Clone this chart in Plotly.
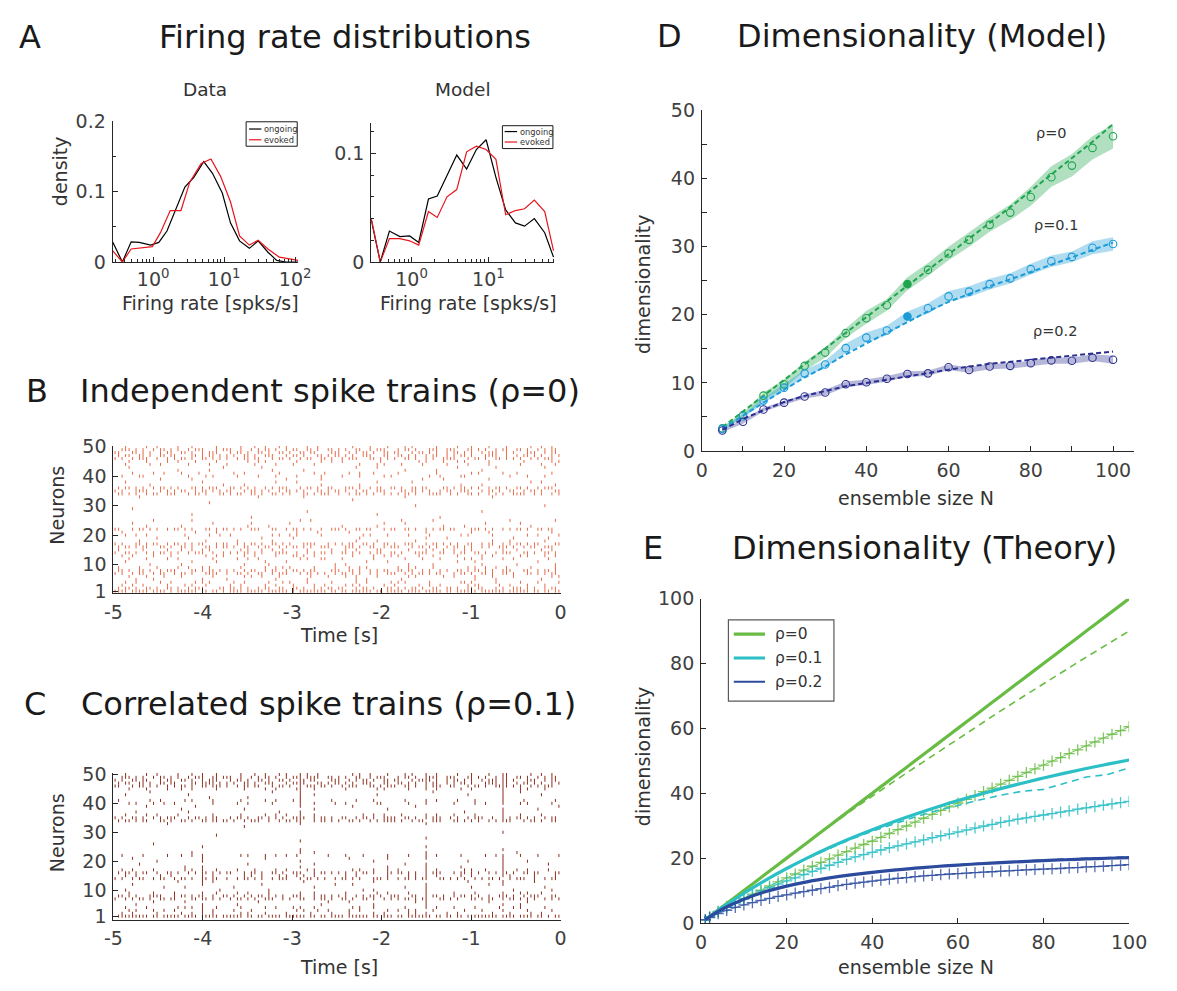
import plotly.graph_objects as go

W, H = 1177, 991
FONT = "DejaVu Sans, Verdana, sans-serif"
TICKC = '#404040'
AXC = '#262626'
TXT = '#1a1a1a'

# ---------------- Panel A : firing-rate distributions ----------------
a_data_ongoing_logx = [-0.571, -0.433, -0.309, -0.195, -0.034, 0.080, 0.195, 0.319, 0.447, 0.571, 0.713,
                       0.836, 0.974, 1.089, 1.217, 1.355, 1.479, 1.617, 1.740, 1.868, 2.043]
a_data_ongoing = [0.0287, 0.0, 0.0287, 0.0278, 0.0241, 0.0278, 0.044, 0.074, 0.1065, 0.120, 0.1426,
                  0.126, 0.098, 0.0556, 0.030, 0.0194, 0.030, 0.0139, 0.0023, 0.0, 0.0]
a_data_evoked_logx = [-0.571, -0.433, -0.309, -0.149, -0.011, 0.103, 0.241, 0.392, 0.516, 0.677, 0.814,
                      0.952, 1.089, 1.217, 1.355, 1.479, 1.617, 1.777, 1.915, 2.043]
a_data_evoked = [0.0162, 0.0, 0.0185, 0.0208, 0.0218, 0.0417, 0.0731, 0.0731, 0.1134, 0.1398, 0.1463,
                 0.1213, 0.0856, 0.037, 0.024, 0.031, 0.0185, 0.0069, 0.0046, 0.0023]

a_model_logx = [-0.525, -0.407, -0.288, -0.152, -0.025, 0.093, 0.220, 0.334, 0.461, 0.588, 0.716,
                0.843, 0.970, 1.097, 1.224, 1.351, 1.470, 1.597, 1.732, 1.846]
a_model_ongoing = [0.039, 0.0, 0.0285, 0.0234, 0.024, 0.018, 0.058, 0.0607, 0.0796, 0.0985, 0.0856,
                   0.1036, 0.1126, 0.078, 0.048, 0.036, 0.033, 0.040, 0.027, 0.0045]
a_model_evoked = [0.0405, 0.0, 0.0216, 0.0216, 0.0195, 0.0156, 0.0465, 0.041, 0.060, 0.0667, 0.1015,
                  0.1066, 0.1036, 0.0946, 0.0435, 0.0474, 0.049, 0.057, 0.0465, 0.0105]

log_major_ticks = [1, 10, 100]
log_major_text = ['10<sup>0</sup>', '10<sup>1</sup>', '10<sup>2</sup>']
log_minor_ticks = [0.3, 0.4, 0.5, 0.6, 0.7, 0.8, 0.9, 2, 3, 4, 5, 6, 7, 8, 9,
                   20, 30, 40, 50, 60, 70, 80, 90]

# ---------------- Panels B, C : spike rasters (hex-coded 128 time bins per neuron, neuron 1 first) ----------------
raster_t0, raster_t1 = -5.0, 0.0
raster_b_rows = [
    "f7de bf6d 7bef d7fb 6fdb ef7d bd7f 7edb",
    "5a69 a5c3 6a59 9a56 c5a3 5699 a6c5 3a96",
    "2481 0a20 4812 1048 2a04 8124 0582 4210",
    "1204 8150 2408 a102 0481 5020 1a04 0841",
    "0210 0040 8002 0100 0480 2000 0104 0020",
    "0842 1008 0521 0084 2410 0a02 4108 2005",
    "a596 5a3c 9a65 c5a9 6a53 95ac 5a69 a356",
    "69a5 c35a a596 5ac3 9a56 6ca5 35a9 c65a",
    "4108 2450 0812 a041 1280 4a10 0524 8102",
    "0020 1000 0408 0001 2000 0810 0040 1002",
    "1000 0204 0010 4000 0082 0000 2100 0040",
    "0841 2008 1240 0518 4020 1084 0a41 2008",
    "2410 8025 0482 1a40 0825 4110 2048 0a12",
    "9a56 a5c9 56a3 c95a 6a59 a3c6 59a5 c69a",
    "4081 1250 0a24 8102 2418 0852 4a01 1024",
    "5ac6 9a35 a659 5a9c 3a65 c5a9 6a53 a59c",
    "a359 6ac5 95a6 a3c5 59a6 9c5a a659 5ac3",
    "0100 0020 1004 0000 0410 0200 0008 4010",
    "0008 0400 0020 1000 0200 0041 0000 2008",
    "1240 0812 4005 2810 0142 0820 1408 0241",
    "2000 0104 0000 0820 1000 0040 0210 0004",
    "c5a9 6a35 a9c6 5a93 a6c5 9a56 c3a9 5a6c",
    "0040 1000 0208 0000 4010 0002 0800 0100",
    "0400 0008 0100 2000 0004 1000 0020 0800",
    "0010 0200 0000 0480 0000 2010 0000 4002",
    "0000 0000 0100 0000 0000 0004 0000 0000",
    "0000 0200 0000 0000 0010 0000 0000 0000",
    "0000 0000 0000 0100 0000 0000 0040 0000",
    "0400 0000 0000 0000 0000 0000 0000 0000",
    "0000 0000 0000 0000 0000 0200 0000 0010",
    "0000 0010 0000 0000 0000 0000 0000 0000",
    "0000 0000 0000 0000 0800 0000 0000 0000",
    "0100 0000 0040 0200 0000 1000 0008 0000",
    "6a59 c5a3 59a6 a35c 96a5 5a3c a695 3ca5",
    "a3c5 596a c5a9 6a35 a59c 36a5 9c5a 65a3",
    "5a96 a35c 6a95 c5a6 3a59 a6c3 5a96 9a5c",
    "0020 0001 0400 0010 0200 0000 1040 0002",
    "1000 0040 0002 0800 0010 0400 0000 0120",
    "0004 0200 0000 4010 0000 0082 0010 0000",
    "2180 0428 1042 0810 4205 0024 1800 4210",
    "0412 1080 2401 0048 1220 4008 0281 1004",
    "0000 2010 0004 0200 0000 1008 0040 0000",
    "0800 0001 0020 0000 0410 0000 2004 0010",
    "1024 0410 8082 1040 0214 2081 0410 0822",
    "0841 2104 0250 0812 4008 0142 2810 0405",
    "a5c9 5a6a 96c5 a59a 5c6a 9a53 c5a6 a95c",
    "59a6 c35a a69c 5a35 a9c6 6a59 5a3c 96a5",
    "c6a5 9a5c 5a69 a6c3 95a6 c5a9 6a5c a396",
    "3a96 a5c5 c95a 59a6 a65c 5a39 c6a5 9a56",
    "1048 2204 0891 4120 0842 1408 2210 8124",
]
raster_c_rows = [
    "7fdb ef7d fb6f 7edb dfb7 6fed b7fd ef6b",
    "2408 1248 0a10 4082 1024 0a41 2008 4120",
    "0a12 4048 2100 0a24 1202 4a10 0841 0204",
    "1040 2a44 0812 1440 0a20 1048 4102 2810",
    "0200 0040 1000 0010 0020 0040 0001 0800",
    "0010 0800 0040 0004 1000 0240 0010 0200",
    "95a6 c36a 5a9c a65a 69a5 5ac6 a359 6a95",
    "6a3c 5ac9 a56a 9c5a a569 c65a 5a93 a5c6",
    "0810 4044 1208 0440 2012 0840 4101 0a20",
    "1000 0002 0008 0000 0120 0040 0000 2004",
    "0002 0800 2000 0040 0000 1040 0200 0010",
    "0400 0040 0020 0001 0800 0040 0011 0000",
    "0000 2048 0000 0200 0020 0000 0401 0080",
    "a596 5a6c 96a5 c5a9 6a3a 5ac6 a95a 5c96",
    "1204 8048 0521 4a40 2402 0a48 1201 4082",
    "5ac9 a56a c5a6 9c5a a5a3 6a5c 5a95 a6c3",
    "2410 0a44 1082 4140 0a22 4048 0a21 1208",
    "0000 0840 0000 0400 0002 0040 1001 0000",
    "0100 0000 0200 0040 0000 1040 0001 0008",
    "0008 0040 0000 0400 0020 0000 0401 0200",
    "0400 0040 0010 0000 1002 0040 0001 0000",
    "2081 1240 0a12 4804 2102 0848 1025 0841",
    "0000 0200 0000 0440 0000 0040 0000 1000",
    "0000 0000 0000 0400 0000 0000 0001 0000",
    "0000 0040 0000 0000 0000 0040 0000 0000",
    "0010 0000 0000 0000 0000 0000 0000 0000",
    "0000 0000 0000 0400 0000 0000 0000 0000",
    "0000 0000 0000 0000 0000 0040 0000 0000",
    "0000 0004 0000 0000 0000 0000 0000 0000",
    "0000 0000 0000 0000 0000 0000 0001 0000",
    "0000 0000 0000 0000 0000 0000 0000 0000",
    "0000 0000 0400 0000 0000 0000 0000 0000",
    "0001 0000 0000 0400 0000 0040 0000 0000",
    "5ac6 9a6d a5c9 6c5a 9a57 a59c 6a95 c5a6",
    "a695 c5ac 5a6a 9e5a 65a7 9a5c a5c9 5a96",
    "1048 2008 0812 4440 0124 2048 4101 0820",
    "0200 0400 0001 0400 0000 0000 0801 0000",
    "0000 1000 0400 0040 0002 0000 0001 0040",
    "0040 0100 0000 0400 0800 0200 0000 0001",
    "0a12 4008 1204 0441 2018 0840 4121 0a04",
    "4024 0a08 0812 1402 0420 1048 2101 0402",
    "0000 0010 0200 0400 0000 0000 0001 0000",
    "1000 0400 0000 0440 0010 0000 0401 0020",
    "0020 0000 0004 0400 0000 0010 0001 0800",
    "0841 1204 0412 0c40 2014 0848 1201 0a10",
    "c5a9 5a6e 96c5 a5da 5c6b 9a5c c5a7 a95c",
    "59a6 c37a a69c 5e35 a9c6 6a59 5a3d 96a5",
    "a6c5 9a5c 5a69 a6c3 95a6 c5e9 6a5d a396",
    "3a96 a5cd c95a 5de6 a65c 5a79 c6a5 9a56",
    "1048 2244 0891 4520 0a42 1448 2211 8124",
]
raster_yticks = [1, 10, 20, 30, 40, 50]
raster_xticks = [-5, -4, -3, -2, -1, 0]
raster_xtext = ['-5', '-4', '-3', '-2', '-1', '0']

# ---------------- Panel D : dimensionality (model) ----------------
d_n = [5, 10, 15, 20, 25, 30, 35, 40, 45, 50, 55, 60, 65, 70, 75, 80, 85, 90, 95, 100]
d_r0_mean = [3.35, 5.26, 8.13, 9.8, 12.5, 14.45, 17.3, 19.5, 21.4, 24.5, 26.6, 29.0, 31.0, 33.2, 35.0, 37.3, 40.2, 41.9, 44.5, 46.2]
d_r0_lo = [3.1, 4.9, 7.5, 9.2, 11.8, 13.7, 16.6, 18.7, 20.6, 23.6, 25.7, 28.0, 30.0, 32.2, 33.9, 36.0, 38.8, 40.3, 42.8, 44.4]
d_r0_hi = [3.6, 5.6, 8.6, 10.5, 13.1, 15.2, 18.0, 20.6, 22.3, 25.5, 27.6, 30.0, 32.1, 34.3, 36.2, 38.8, 41.8, 43.6, 46.2, 48.0]
d_r0_theory = [3.5, 5.8, 8.2, 10.5, 12.8, 15.1, 17.4, 19.6, 21.9, 24.2, 26.5, 28.8, 31.1, 33.5, 35.8, 38.2, 40.6, 43.0, 45.4, 48.0]
d_r1_mean = [3.25, 5.1, 7.4, 9.3, 11.4, 12.7, 15.1, 16.65, 17.7, 19.75, 20.95, 22.7, 23.4, 24.5, 25.35, 26.7, 27.85, 28.5, 29.85, 30.4]
d_r1_lo = [3.0, 4.8, 7.0, 8.8, 10.9, 12.2, 14.4, 15.9, 17.0, 19.0, 20.2, 21.9, 22.6, 23.7, 24.6, 25.9, 27.0, 27.7, 28.9, 29.4]
d_r1_hi = [3.5, 5.4, 7.8, 9.8, 11.9, 13.3, 15.8, 17.4, 18.4, 20.5, 21.7, 23.5, 24.2, 25.3, 26.1, 27.5, 28.7, 29.3, 30.8, 31.4]
d_r1_theory = [3.3, 5.2, 7.2, 9.0, 10.8, 12.4, 14.2, 15.8, 17.4, 19.0, 20.5, 21.9, 23.1, 24.2, 25.2, 26.3, 27.4, 28.5, 29.5, 30.6]
d_r2_mean = [3.0, 4.3, 6.1, 7.1, 8.0, 8.6, 9.8, 10.1, 10.6, 11.3, 11.4, 12.3, 11.9, 12.4, 12.5, 12.9, 13.3, 13.25, 13.7, 13.4]
d_r2_lo = [2.8, 4.0, 5.8, 6.8, 7.7, 8.2, 9.4, 9.7, 10.2, 10.9, 11.0, 11.9, 11.5, 12.0, 12.1, 12.5, 12.8, 12.8, 13.2, 12.8]
d_r2_hi = [3.2, 4.6, 6.4, 7.4, 8.3, 9.0, 10.2, 10.5, 11.0, 11.7, 11.8, 12.7, 12.3, 12.8, 12.9, 13.3, 13.8, 13.7, 14.2, 14.0]
d_r2_theory = [3.1, 4.7, 6.0, 7.2, 8.1, 8.8, 9.5, 10.0, 10.5, 11.0, 11.5, 12.0, 12.4, 12.8, 13.1, 13.5, 13.8, 14.1, 14.4, 14.6]
d_highlight_n = 50
d_labels = ['ρ=0', 'ρ=0.1', 'ρ=0.2']

# ---------------- Panel E : dimensionality (theory) ----------------
e_n = [1, 5, 10, 15, 20, 25, 30, 35, 40, 45, 50, 55, 60, 65, 70, 75, 80, 85, 90, 95, 100]
e_r0_solid = [1, 5, 10, 15, 20, 25, 30, 35, 40, 45, 50, 55, 60, 65, 70, 75, 80, 85, 90, 95, 100]
e_r1_solid = [1, 4.81, 9.17, 13.16, 16.81, 20.16, 23.26, 26.12, 28.78, 31.25, 33.56, 35.71, 37.74, 39.63,
              41.42, 43.10, 44.69, 46.20, 47.62, 48.97, 50.25]
e_r2_solid = [1, 4.31, 7.35, 9.62, 11.36, 12.76, 13.89, 14.83, 15.63, 16.30, 16.89, 17.41, 17.86, 18.26,
              18.62, 18.94, 19.23, 19.50, 19.74, 19.96, 20.16]
e_r0_dash = [1, 5, 10, 15, 20, 25, 29.9, 34.6, 39.2, 43.6, 48.0, 52.4, 56.8, 61.1, 65.4, 69.6, 73.8, 77.9, 82.0, 86.0, 90.0]
e_r1_dash = [1, 4.8, 9.1, 13.1, 16.7, 20.0, 23.0, 25.8, 28.3, 30.6, 32.7, 34.6, 36.3, 37.9, 39.4, 40.6, 41.2, 43.2, 45.0, 45.8, 47.8]
e_r2_dash = [1, 4.3, 7.3, 9.6, 11.4, 12.8, 13.9, 14.9, 15.7, 16.4, 17.0, 17.5, 18.0, 18.4, 18.8, 19.1, 19.4, 19.7, 20.0, 20.2, 20.4]
e_n_sim = [1, 2, 4, 6, 8, 10, 12, 14, 16, 18, 20, 22, 24, 26, 28, 30, 32, 34, 36, 38, 40, 42, 44, 46, 48, 50,
           52, 54, 56, 58, 60, 62, 64, 66, 68, 70, 72, 74, 76, 78, 80, 82, 84, 86, 88, 90, 92, 94, 96, 98, 100]
e_r0_sim = [1.0, 1.9, 3.6, 5.1, 6.4, 7.6, 8.9, 10.1, 11.4, 12.7, 13.9, 15.1, 16.3, 17.5, 18.7, 19.8, 20.9, 22.0,
            23.1, 24.2, 25.2, 26.4, 27.6, 28.8, 29.9, 31.1, 32.3, 33.5, 34.7, 35.8, 37.0, 38.1, 39.3, 40.5, 41.6,
            42.8, 44.0, 45.2, 46.4, 47.5, 48.7, 49.9, 51.0, 52.2, 53.4, 54.6, 55.8, 57.0, 58.2, 59.3, 60.5]
e_r1_sim = [1.0, 1.9, 3.5, 4.8, 6.1, 7.4, 8.6, 9.8, 10.9, 12.0, 13.0, 13.9, 14.9, 15.9, 16.8, 17.8, 18.7, 19.6,
            20.4, 21.1, 21.8, 22.5, 23.2, 23.8, 24.4, 25.0, 25.6, 26.3, 26.9, 27.5, 28.1, 28.7, 29.3, 29.9, 30.4,
            31.0, 31.5, 32.0, 32.4, 32.9, 33.3, 33.7, 34.2, 34.6, 35.1, 35.5, 35.9, 36.3, 36.7, 37.1, 37.5]
e_r2_sim = [1.0, 1.7, 2.9, 3.9, 4.8, 5.6, 6.3, 7.0, 7.6, 8.2, 8.7, 9.2, 9.7, 10.1, 10.6, 11.0, 11.5, 11.9,
            12.3, 12.6, 12.9, 13.2, 13.5, 13.8, 14.0, 14.3, 14.5, 14.7, 14.9, 15.1, 15.2, 15.4, 15.5, 15.7, 15.8,
            16.0, 16.1, 16.2, 16.4, 16.5, 16.6, 16.7, 16.8, 17.0, 17.1, 17.3, 17.4, 17.5, 17.7, 17.8, 18.0]
e_labels = ['ρ=0', 'ρ=0.1', 'ρ=0.2']

# ---------------- colours ----------------
C_ONGOING, C_EVOKED = '#000000', '#E8141C'
C_RASTER_B, C_RASTER_C = '#E66A48', '#8C2E1E'
D_COL = ['#1FA54E', '#1C9BD7', '#2B2F8F']
D_BAND = ['rgba(31,165,78,0.35)', 'rgba(28,155,215,0.35)', 'rgba(43,47,143,0.35)']
E_COL = ['#68BC43', '#2BBFC6', '#2C4B9F']
E_SIM = ['rgba(104,188,67,0.85)', 'rgba(43,191,198,0.85)', 'rgba(44,75,159,0.8)']


def px_x(p):
    return p / W


def px_y(p):
    return 1 - p / H


def dom_x(a, b):
    return [a / W, b / W]


def dom_y(a, b):
    return [1 - b / H, 1 - a / H]


def decode(rows):
    xs, ys = [], []
    for i, r in enumerate(rows):
        bits = ''.join(format(int(c, 16), '04b') for c in ''.join(r.split()))
        nb = len(bits)
        for j, b in enumerate(bits):
            if b == '1':
                xs.append(raster_t0 + (j + 0.5) * (raster_t1 - raster_t0) / nb)
                ys.append(i + 1)
    return xs, ys


fig = go.Figure()

# ---- A traces
fig.add_trace(go.Scatter(x=[10 ** v for v in a_data_ongoing_logx], y=a_data_ongoing, mode='lines',
                         line=dict(color=C_ONGOING, width=1.2), xaxis='x', yaxis='y', showlegend=False))
fig.add_trace(go.Scatter(x=[10 ** v for v in a_data_evoked_logx], y=a_data_evoked, mode='lines',
                         line=dict(color=C_EVOKED, width=1.2), xaxis='x', yaxis='y', showlegend=False))
fig.add_trace(go.Scatter(x=[10 ** v for v in a_model_logx], y=a_model_ongoing, mode='lines',
                         line=dict(color=C_ONGOING, width=1.2), xaxis='x2', yaxis='y2', showlegend=False))
fig.add_trace(go.Scatter(x=[10 ** v for v in a_model_logx], y=a_model_evoked, mode='lines',
                         line=dict(color=C_EVOKED, width=1.2), xaxis='x2', yaxis='y2', showlegend=False))

# ---- B, C rasters
for rows, col, xa, ya in [(raster_b_rows, C_RASTER_B, 'x3', 'y3'), (raster_c_rows, C_RASTER_C, 'x4', 'y4')]:
    sx, sy = decode(rows)
    fig.add_trace(go.Scatter(x=sx, y=sy, mode='markers', xaxis=xa, yaxis=ya, showlegend=False,
                             marker=dict(symbol='line-ns', size=2.2, line=dict(color=col, width=1.0))))

# ---- D
d_sets = [(d_r0_mean, d_r0_lo, d_r0_hi, d_r0_theory, True),
          (d_r1_mean, d_r1_lo, d_r1_hi, d_r1_theory, True),
          (d_r2_mean, d_r2_lo, d_r2_hi, d_r2_theory, False)]
for k, (mean, lo, hi, th, filled) in enumerate(d_sets):
    fig.add_trace(go.Scatter(x=d_n + d_n[::-1], y=hi + lo[::-1], fill='toself', fillcolor=D_BAND[k],
                             line=dict(width=0), mode='lines', xaxis='x5', yaxis='y5', showlegend=False,
                             hoverinfo='skip'))
for k, (mean, lo, hi, th, filled) in enumerate(d_sets):
    fig.add_trace(go.Scatter(x=d_n, y=th, mode='lines', line=dict(color=D_COL[k], width=2, dash='5px,3px'),
                             xaxis='x5', yaxis='y5', showlegend=False))
    fig.add_trace(go.Scatter(x=d_n, y=mean, mode='markers',
                             marker=dict(symbol='circle-open', size=7.5, color=D_COL[k], line=dict(width=1.1)),
                             xaxis='x5', yaxis='y5', showlegend=False))
    if filled:
        i = d_n.index(d_highlight_n)
        fig.add_trace(go.Scatter(x=[d_n[i]], y=[mean[i]], mode='markers',
                                 marker=dict(symbol='circle', size=7.5, color=D_COL[k]),
                                 xaxis='x5', yaxis='y5', showlegend=False))

# ---- E
for k, sim in enumerate([e_r0_sim, e_r1_sim, e_r2_sim]):
    fig.add_trace(go.Scatter(x=e_n_sim, y=sim, mode='lines+markers',
                             line=dict(color=E_SIM[k], width=1),
                             marker=dict(symbol='cross-thin-open', size=8, line=dict(color=E_SIM[k], width=1.3)),
                             xaxis='x6', yaxis='y6', showlegend=False))
for k, (so, da) in enumerate([(e_r0_solid, e_r0_dash), (e_r1_solid, e_r1_dash), (e_r2_solid, e_r2_dash)]):
    fig.add_trace(go.Scatter(x=e_n, y=da, mode='lines', line=dict(color=E_COL[k], width=1.6, dash='7px,5px'),
                             xaxis='x6', yaxis='y6', showlegend=False))
    fig.add_trace(go.Scatter(x=e_n, y=so, mode='lines', line=dict(color=E_COL[k], width=3.2, shape='spline'),
                             xaxis='x6', yaxis='y6', showlegend=False))

TICKSIZE = 19


def axis_style(**kw):
    d = dict(showline=True, linecolor=AXC, linewidth=1, ticks='inside', tickcolor=AXC, ticklen=5, tickwidth=1,
             showgrid=False, zeroline=False, tickfont=dict(family=FONT, size=TICKSIZE, color=TICKC),
             ticklabelstandoff=2)
    d.update(kw)
    return d


minor_log = dict(tickvals=log_minor_ticks, ticks='inside', ticklen=3, tickcolor=AXC)

fig.update_layout(
    width=W, height=H, margin=dict(l=0, r=0, t=0, b=0),
    paper_bgcolor='white', plot_bgcolor='white', showlegend=False,
    xaxis=axis_style(domain=dom_x(106, 296), type='log', range=[-0.571, 2.043], tickvals=log_major_ticks,
                     ticktext=log_major_text, minor=minor_log, anchor='y', ticklabelstandoff=0),
    yaxis=axis_style(domain=dom_y(112.7, 256.7), range=[0, 0.2], tickvals=[0, 0.1, 0.2],
                     ticktext=['0', '0.1', '0.2'],
                     minor=dict(tickvals=[0.05, 0.15], ticks='inside', ticklen=3, tickcolor=AXC), anchor='x'),
    xaxis2=axis_style(domain=dom_x(370.7, 558.3), type='log', range=[-0.525, 1.859], tickvals=log_major_ticks[:2],
                      ticktext=log_major_text[:2], minor=minor_log, anchor='y2', ticklabelstandoff=0),
    yaxis2=axis_style(domain=dom_y(115, 256.7), range=[0, 0.1276], tickvals=[0, 0.1], ticktext=['0', '0.1'],
                      minor=dict(tickvals=[0.02, 0.04, 0.06, 0.08, 0.12], ticks='inside', ticklen=3, tickcolor=AXC),
                      anchor='x2'),
    xaxis3=axis_style(domain=dom_x(106.8, 564.6), range=[-5, 0], tickvals=raster_xticks, ticktext=raster_xtext,
                      anchor='y3'),
    yaxis3=axis_style(domain=dom_y(445, 595.7), range=[0.2, 50.2], tickvals=raster_yticks, anchor='x3'),
    xaxis4=axis_style(domain=dom_x(106.8, 564.6), range=[-5, 0], tickvals=raster_xticks, ticktext=raster_xtext,
                      anchor='y4'),
    yaxis4=axis_style(domain=dom_y(779.3, 929.3), range=[-0.2, 50.5], tickvals=raster_yticks, anchor='x4'),
    xaxis5=axis_style(domain=dom_x(709.1, 1151), range=[0, 105], tickvals=[0, 20, 40, 60, 80, 100],
                      minor=dict(tickvals=[10, 30, 50, 70, 90], ticks='inside', ticklen=5, tickcolor=AXC),
                      anchor='y5'),
    yaxis5=axis_style(domain=dom_y(101.7, 450), range=[0, 50], tickvals=[0, 10, 20, 30, 40, 50],
                      minor=dict(tickvals=[5, 15, 25, 35, 45], ticks='inside', ticklen=5, tickcolor=AXC),
                      anchor='x5'),
    xaxis6=axis_style(domain=dom_x(708.3, 1146.4), range=[0, 100], tickvals=[0, 20, 40, 60, 80, 100], anchor='y6'),
    yaxis6=axis_style(domain=dom_y(601, 932.7), range=[0, 100], tickvals=[0, 20, 40, 60, 80, 100], anchor='x6'),
)


def ann(text, x, y, size, color=TXT, xanchor='center', yanchor='middle', angle=0):
    return dict(text=text, x=px_x(x), y=px_y(y), xref='paper', yref='paper', showarrow=False,
                xanchor=xanchor, yanchor=yanchor, textangle=angle,
                font=dict(family=FONT, size=size, color=color))


LAB = '#333333'
TS = 32
LS = 19
annotations = [
    # panel letters & titles
    ann('A', 22, 26.5, TS), ann('Firing rate distributions', 151, 26.5, TS, xanchor='left'),
    ann('B', 28.7, 389, TS), ann('Independent spike trains (ρ=0)', 71, 389, TS, xanchor='left'),
    ann('C', 26.8, 709, TS), ann('Correlated spike trains (ρ=0.1)', 72, 709, TS, xanchor='left'),
    ann('D', 676, 25.5, TS), ann('Dimensionality (Model)', 743.5, 25.5, TS, xanchor='left'),
    ann('E', 659, 549, TS), ann('Dimensionality (Theory)', 738, 549, TS, xanchor='left'),
    # panel A labels
    ann('Data', 201, 80, 18.5, LAB), ann('Model', 465, 80, 18.5, LAB),
    ann('density', 53, 164, LS, LAB, angle=-90),
    ann('Firing rate [spks/s]', 206.7, 299, LS, LAB), ann('Firing rate [spks/s]', 470.7, 299, LS, LAB),
    # rasters
    ann('Neurons', 49, 505, LS, LAB, angle=-90), ann('Time [s]', 338, 638, LS, LAB),
    ann('Neurons', 49, 840, LS, LAB, angle=-90), ann('Time [s]', 338, 978, LS, LAB),
    # D
    ann('dimensionality', 649, 280, LS, LAB, angle=-90), ann('ensemble size N', 928, 498, LS, LAB),
    ann(d_labels[0], 1067, 125, 14.5, LAB), ann(d_labels[1], 1071.5, 219, 14.5, LAB),
    ann(d_labels[2], 1071, 327, 14.5, LAB),
    # E
    ann('dimensionality', 649, 763, LS, LAB, angle=-90), ann('ensemble size N', 928, 978, LS, LAB),
]

# legends drawn as small boxes
shapes = []


def legend_box(x0, y0, x1, y1, color='#1a1a1a', width=1):
    shapes.append(dict(type='rect', xref='paper', yref='paper', x0=px_x(x0), x1=px_x(x1), y0=px_y(y1), y1=px_y(y0),
                       line=dict(color=color, width=width), fillcolor='white', layer='above'))


def legend_line(x0, x1, y, color, width, dash='solid'):
    shapes.append(dict(type='line', xref='paper', yref='paper', x0=px_x(x0), x1=px_x(x1), y0=px_y(y), y1=px_y(y),
                       line=dict(color=color, width=width, dash=dash), layer='above'))


legend_box(242.7, 113.3, 295, 138.3)
legend_line(245.7, 258.3, 120.7, C_ONGOING, 1.2)
legend_line(245.7, 258.3, 131.7, C_EVOKED, 1.2)
annotations += [ann('ongoing', 259, 120.7, 8.3, LAB, xanchor='left'),
                ann('evoked', 259, 131.7, 8.3, LAB, xanchor='left')]
legend_box(505, 117.3, 556.7, 140.7)
legend_line(507.3, 520, 123.3, C_ONGOING, 1.2)
legend_line(507.3, 520, 134, C_EVOKED, 1.2)
annotations += [ann('ongoing', 520.5, 123.3, 8.3, LAB, xanchor='left'),
                ann('evoked', 520.5, 134, 8.3, LAB, xanchor='left')]
legend_box(736.3, 622.7, 844.3, 705.7, color='#595959', width=1.2)
for k, yy in enumerate([637.3, 661.7, 686]):
    legend_line(741.8, 773.8, yy, E_COL[k], 3.2 if k < 2 else 2.2)
    annotations.append(ann(e_labels[k], 781.8, yy, 15.5, LAB, xanchor='left'))

fig.update_layout(annotations=annotations, shapes=shapes)
fig.write_html("out.html")
